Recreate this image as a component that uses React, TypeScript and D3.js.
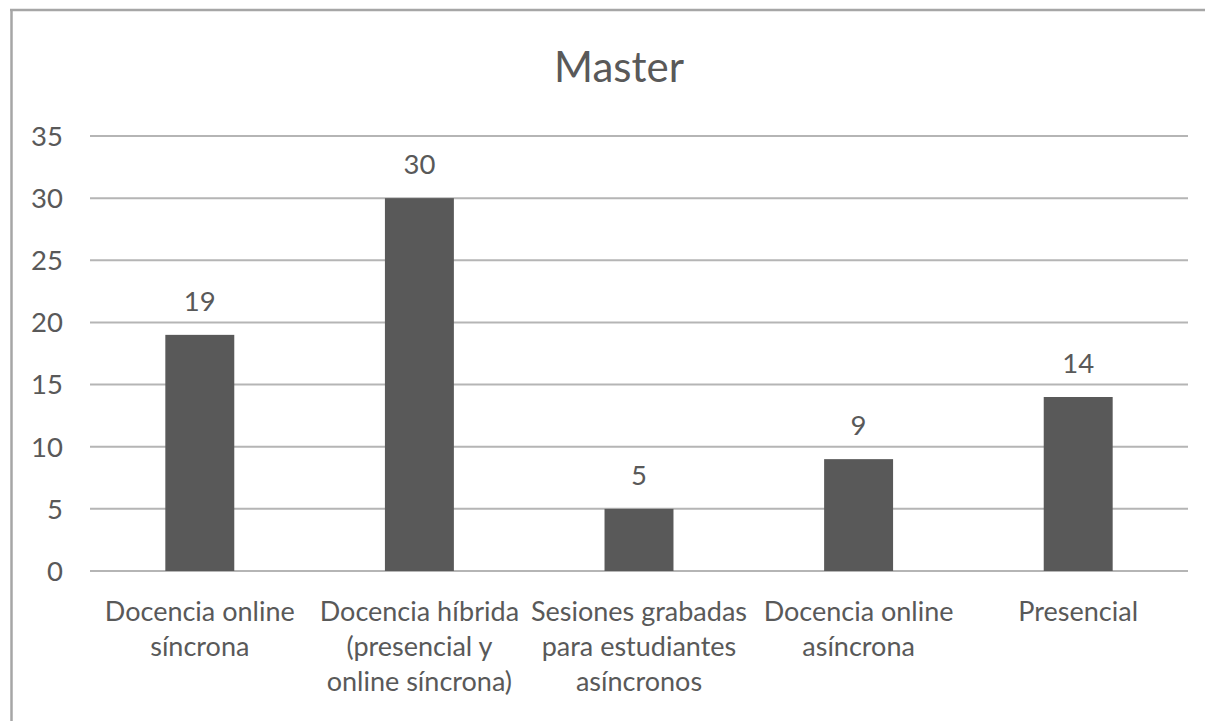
import React from "react";
import * as d3 from "d3";

const title = "Master";
const categories = [
  "Docencia online\nsíncrona",
  "Docencia híbrida\n(presencial y\nonline síncrona)",
  "Sesiones grabadas\npara estudiantes\nasíncronos",
  "Docencia online\nasíncrona",
  "Presencial",
];
const values = [19, 30, 5, 9, 14];
const yTicks = [0, 5, 10, 15, 20, 25, 30, 35];

const W = 1205;
const H = 721;
const FONT = "Lato, 'Open Sans', sans-serif";
const TEXT = "#595959";
const BAR = "#595959";
const GRID = "#b5b5b5";

export default function App() {
  const x = d3
    .scaleBand<string>()
    .domain(categories)
    .range([90, 1188])
    .paddingInner(0.686)
    .paddingOuter(0.343);
  const y = d3.scaleLinear().domain([0, 35]).range([571, 136]);

  return (
    <svg
      width={W}
      height={H}
      style={{ position: "absolute", left: 0, top: 0, display: "block", background: "#fff" }}
      fontFamily={FONT}
    >
      <rect x={0} y={0} width={W} height={H} fill="#fff" />
      {/* chart frame (cropped at right and bottom) */}
      <line x1={11.5} y1={10} x2={11.5} y2={H + 5} stroke="#a6a6a6" strokeWidth={2.5} />
      <line x1={10} y1={10} x2={W + 5} y2={10} stroke="#a6a6a6" strokeWidth={2.5} />

      <text x={619} y={82} textAnchor="middle" fontSize={42} fill={TEXT}>
        {title}
      </text>

      {yTicks.map((t) => (
        <g key={t}>
          <line x1={90} x2={1188} y1={y(t)} y2={y(t)} stroke={GRID} strokeWidth={2} />
          <text x={63} y={y(t)} dy="0.36em" textAnchor="end" fontSize={27.5} fill={TEXT}>
            {t}
          </text>
        </g>
      ))}

      {categories.map((c, i) => {
        const x0 = x(c)!;
        const bw = x.bandwidth();
        const v = values[i];
        const cx = x0 + bw / 2;
        return (
          <g key={c}>
            <rect x={x0} y={y(v)} width={bw} height={y(0) - y(v)} fill={BAR} />
            <text x={cx} y={y(v) - 24} textAnchor="middle" fontSize={27.5} fill={TEXT}>
              {v}
            </text>
            {c.split("\n").map((ln, j) => (
              <text key={j} x={cx} y={621 + j * 35} textAnchor="middle" fontSize={27} fill={TEXT}>
                {ln}
              </text>
            ))}
          </g>
        );
      })}
    </svg>
  );
}
